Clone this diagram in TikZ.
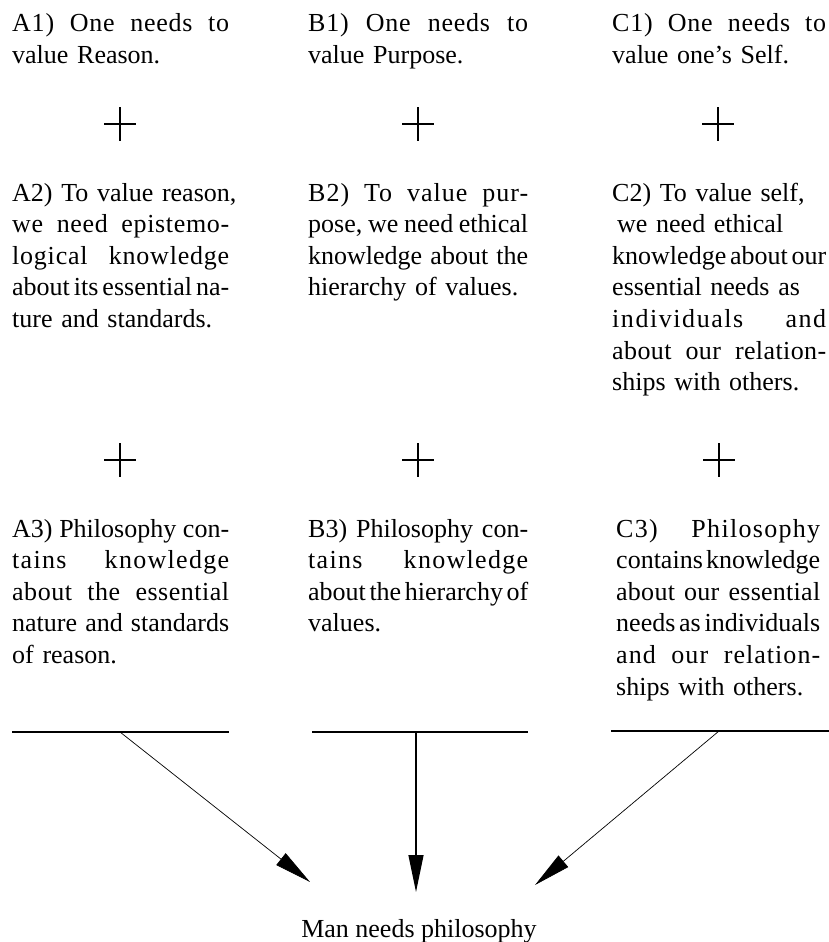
\documentclass[tikz,border=0pt]{standalone}
\usepackage{fontspec}
\setmainfont{Liberation Serif}
\usetikzlibrary{arrows.meta}
% a line set out to the full column width (optionally letter-spaced), and a line left as it is
\newcommand{\fl}[2][0]{\leavevmode\hbox to \hsize{\addfontfeature{LetterSpace=#1}%
    \spaceskip=.25em plus .6em minus .15em #2}}
\newcommand{\rl}[1]{\leavevmode\mbox{#1}}

\begin{document}
\begin{tikzpicture}[x=1pt, y=-1pt,
    txt/.style={anchor=base west, inner sep=0pt, align=left,
        font=\fontsize{26pt}{31.6pt}\selectfont},
    plusmark/.style={inner sep=0pt, minimum width=32pt, minimum height=34pt,
        path picture={\draw[line width=1.3pt]
            (path picture bounding box.north) -- (path picture bounding box.south)
            (path picture bounding box.west) -- (path picture bounding box.east);}},
    bar/.style={line width=2pt},
    link/.style={-{Triangle[length=37pt,width=15pt]}}]
    \useasboundingbox (0,0) rectangle (829,942);

    % first row
    \node[txt, text width=217pt] (A1) at (12,32) {\fl[3]{A1) One needs to}\\\rl{value Reason.}};
    \node[txt, text width=220pt] (B1) at (308,32) {\fl[3]{B1) One needs to}\\\rl{value Purpose.}};
    \node[txt, text width=214pt] (C1) at (612,32) {\fl[3]{C1) One needs to}\\\rl{value one's Self.}};

    \node[plusmark] (pA1) at (120,124) {};
    \node[plusmark] (pB1) at (418,124) {};
    \node[plusmark] (pC1) at (718,124) {};

    % second row
    \node[txt, text width=217pt] (A2) at (12,201) {\rl{A2) To value reason,}\\
        \fl[2.5]{we need epistemo-}\\\fl[3]{logical knowledge}\\
        \fl{about its essential na-}\\\rl{ture and standards.}};
    \node[txt, text width=220pt] (B2) at (308,201) {\fl[4]{B2) To value pur-}\\
        \fl{pose, we need ethical}\\\fl{knowledge about the}\\\rl{hierarchy of values.}};
    \node[txt, text width=214pt] (C2) at (612,201) {\rl{C2) To value self,}\\
        \rl{\hspace*{5pt}we need ethical}\\\fl{knowledge about our}\\\rl{essential needs as}\\
        \fl[6]{individuals and}\\\fl[1.5]{about our relation-}\\\rl{ships with others.}};

    \node[plusmark] (pA2) at (120,460) {};
    \node[plusmark] (pB2) at (418,460) {};
    \node[plusmark] (pC2) at (719,460) {};

    % third row
    \node[txt, text width=217pt] (A3) at (12,537) {\fl{A3) Philosophy con-}\\
        \fl[5]{tains knowledge}\\\fl[2]{about the essential}\\
        \fl{nature and standards}\\\rl{of reason.}};
    \node[txt, text width=220pt] (B3) at (308,537) {\fl{B3) Philosophy con-}\\
        \fl[5]{tains knowledge}\\\fl{about the hierarchy of}\\\rl{values.}};
    \node[txt, text width=204pt] (C3) at (616,537) {\fl[5]{C3) Philosophy}\\
        \fl{contains knowledge}\\\fl[1]{about our essential}\\
        \fl{needs as individuals}\\\fl[4]{and our relation-}\\\rl{ships with others.}};

    % conclusion
    \node[txt, anchor=base] (man) at (419,937) {Man needs philosophy};

    \coordinate (barAw) at (12,732);
    \coordinate (barAe) at (229,732);
    \coordinate (barBw) at (312,732);
    \coordinate (barBe) at (528,732);
    \coordinate (barCw) at (611,731);
    \coordinate (barCe) at (829,731);
    \coordinate (fromA) at (120,732);
    \coordinate (fromB) at (416,732);
    \coordinate (fromC) at (719,731);
    \coordinate (toA) at (310,882);
    \coordinate (toB) at (416,892);
    \coordinate (toC) at (535,885);

    \draw[bar] (barAw) -- (barAe);
    \draw[bar] (barBw) -- (barBe);
    \draw[bar] (barCw) -- (barCe);
    \draw[link, line width=0.7pt] (fromA) -- (toA);
    \draw[link, line width=1.3pt] (fromB) -- (toB);
    \draw[link, line width=0.7pt] (fromC) -- (toC);
\end{tikzpicture}
\end{document}
